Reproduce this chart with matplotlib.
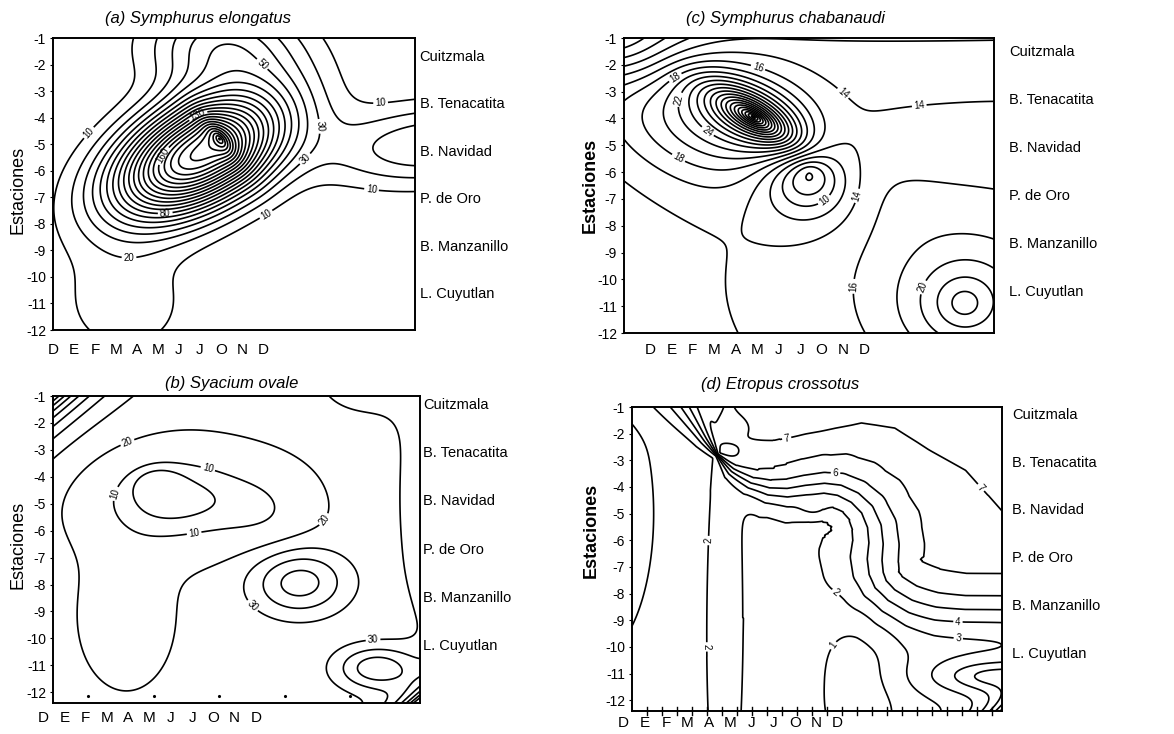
import numpy as np
import matplotlib
matplotlib.use("Agg")
import matplotlib.pyplot as plt

plt.rcParams['font.family'] = ['Liberation Sans', 'DejaVu Sans']

# ---------------- data ----------------
MONTHS = ['D', 'E', 'F', 'M', 'A', 'M', 'J', 'J', 'O', 'N', 'D']
STATIONS = ['Cuitzmala', 'B. Tenacatita', 'B. Navidad', 'P. de Oro', 'B. Manzanillo', 'L. Cuyutlan']
YTICKS = list(range(-1, -13, -1))

# Surfaces are estimated from the figure as a background level plus a few
# bumps (x = fraction of the sampled period, y = station axis value).

# (a) Symphurus elongatus
A_BASE = 0.0
A_X   = [0.40, 0.46, 1.05, 0.20, 0.47]
A_Y   = [-5.4, -4.8, -5.0, -11.0, -1.3]
A_AMP = [200., 60., 40., 16., 45.]
A_RX  = [92., 20., 110., 70., 75.]
A_RY  = [50., 9., 40., 60., 45.]
A_ANG = [28., -51., 5., 0., 0.]
A_POW = [2.0, 1.0, 2.0, 2.0, 2.0]
A_LEVELS = list(range(10, 280, 10))

# (b) Syacium ovale
B_BASE = 23.0
B_X   = [0.33, 0.285, 0.20, 0.60, 0.00, 0.85, 1.08, 0.67, 0.88, 1.00]
B_Y   = [-4.8, -4.3, -9.2, -5.5, -1.0, -0.3, -4.8, -7.9, -11.1, -12.4]
B_AMP = [-20., -8., -8., -8., 80., 12., 24., 33., 33., 90.]
B_RX  = [90., 22., 50., 50., 200., 60., 45., 48., 40., 200.]
B_RY  = [52., 16., 75., 50., 22., 45., 140., 33., 22., 12.]
B_ANG = [0., 0., 0., 0., 40., 0., 0., 0., 0., 38.]
B_POW = [2.0, 2.0, 2.0, 2.0, 1.0, 2.0, 2.0, 2.0, 2.0, 1.0]
B_LEVELS = [5, 10, 20, 30, 40, 50, 60, 70, 80, 90]

# (c) Symphurus chabanaudi
C_BASE = 12.5
C_X   = [0.35, 0.20, -0.05, 0.50, 1.05, 0.92, 0.80]
C_Y   = [-3.95, -4.3, -0.8, -6.0, -10.0, -10.9, -0.6]
C_AMP = [36., 6., -11., -16., 4., 9., -3.]
C_RX  = [52., 110., 110., 45., 290., 50., 260.]
C_RY  = [20., 60., 45., 40., 180., 45., 14.]
C_ANG = [-30., -20., -15., 0., 0., 0., 0.]
C_POW = [1.0, 2.0, 2.0, 1.5, 2.0, 1.3, 2.0]
C_LEVELS = list(range(2, 62, 2))

# (d) Etropus crossotus : S-shaped front between a low and a high plateau
D_LOW, D_HIGH = 1.5, 7.6
D_FRONT_X = [0.12, 0.20, 0.23, 0.27, 0.32, 0.37, 0.42, 0.47, 0.52, 0.56, 0.60,
             0.63, 0.645, 0.645, 0.635, 0.635, 0.65, 0.69, 0.75, 0.82, 0.90, 1.05]
D_FRONT_Y = [-0.5, -2.2, -2.8, -3.4, -3.9, -4.15, -4.2, -4.1, -4.05, -4.15, -4.45,
             -4.9, -5.5, -6.1, -6.7, -7.3, -7.85, -8.3, -8.6, -8.75, -8.8, -8.8]
D_FRONT_W = [28., 10., 2., 10., 16., 22., 26., 28., 30., 33., 36.,
             40., 44., 46., 48., 48., 46., 44., 42., 40., 38., 38.]
D_ARCH_DROP = 1.0
D_ARCH_X = [0.19, 0.235, 0.38, 0.47, 0.62, 0.71, 0.80, 0.90, 1.00, 1.10]
D_ARCH_Y = [-0.3, -2.3, -2.3, -2.0, -1.6, -1.8, -2.6, -3.4, -4.95, -6.0]
D_ARCH_W = [4., 3., 6., 6., 6., 6., 6., 6., 6., 6.]
D_X   = [0.25, 0.49, 0.27, 0.62, -0.10, 0.97, 1.02]
D_Y   = [-9.0, -4.8, -1.8, -10.5, -5.0, -11.1, -12.55]
D_AMP = [1.0, 0.7, 0.8, -1.2, -1.3, 3.5, 10.]
D_RX  = [22., 14., 15., 45., 60., 60., 150.]
D_RY  = [260., 9., 10., 120., 150., 18., 14.]
D_ANG = [0., 0., 0., 0., 0., 0., 40.]
D_POW = [2.0, 2.0, 2.0, 2.0, 2.0, 1.5, 1.0]
D_LEVELS = list(range(1, 15))

W_PX, U_PX = 370.0, 27.0


def bumps(X, Y, base, xs, ys, amps, rxs, rys, angs, pows):
    Z = np.full(X.shape, base, dtype=float)
    for x0, y0, a, rx, ry, ang, p in zip(xs, ys, amps, rxs, rys, angs, pows):
        dx = (X - x0) * W_PX
        dy = (Y - y0) * U_PX
        t = np.radians(ang)
        u = dx * np.cos(t) + dy * np.sin(t)
        v = -dx * np.sin(t) + dy * np.cos(t)
        r = np.sqrt((u / rx) ** 2 + (v / ry) ** 2)
        Z += a * np.exp(-r ** p)
    return Z


def front(X, Y, xs, ys, ws):
    """0..1 step across a polyline (1 on the left of its direction)."""
    gx, gy = X * W_PX, Y * U_PX
    best = np.full(X.shape, np.inf)
    sval = np.zeros(X.shape)
    for i in range(len(xs) - 1):
        ax, ay = xs[i] * W_PX, ys[i] * U_PX
        bx, by = xs[i + 1] * W_PX, ys[i + 1] * U_PX
        dx, dy = bx - ax, by - ay
        L2 = dx * dx + dy * dy
        t = np.clip(((gx - ax) * dx + (gy - ay) * dy) / L2, 0, 1)
        cx, cy = ax + t * dx, ay + t * dy
        dist = np.hypot(gx - cx, gy - cy)
        cross = dx * (gy - ay) - dy * (gx - ax)
        w = ws[i] + t * (ws[i + 1] - ws[i])
        s = np.sign(cross) * dist / w
        m = dist < best - 1e-9
        best = np.where(m, dist, best)
        sval = np.where(m, s, sval)
    return 0.5 * (1 + np.tanh(sval))


def field_a(X, Y):
    return bumps(X, Y, A_BASE, A_X, A_Y, A_AMP, A_RX, A_RY, A_ANG, A_POW)


def field_b(X, Y):
    return bumps(X, Y, B_BASE, B_X, B_Y, B_AMP, B_RX, B_RY, B_ANG, B_POW)


def field_c(X, Y):
    return bumps(X, Y, C_BASE, C_X, C_Y, C_AMP, C_RX, C_RY, C_ANG, C_POW)


def field_d(X, Y):
    Z = D_LOW + (D_HIGH - D_LOW) * front(X, Y, D_FRONT_X, D_FRONT_Y, D_FRONT_W)
    Z -= D_ARCH_DROP * front(X, Y, D_ARCH_X, D_ARCH_Y, D_ARCH_W)
    Z += bumps(X, Y, 0.0, D_X, D_Y, D_AMP, D_RX, D_RY, D_ANG, D_POW)
    return Z


FIG_W, FIG_H = 1174, 734
fig = plt.figure(figsize=(FIG_W / 100, FIG_H / 100), dpi=100)


def px_rect(l, t, r, b):
    return [l / FIG_W, 1 - b / FIG_H, (r - l) / FIG_W, (b - t) / FIG_H]


def panel(box, ylim, fieldfn, levels, title, title_xy, ylab_xy, ylab_bold,
          st_y0, st_dy, st_x, xl_start, xl_y, label_pts):
    ax = fig.add_axes(px_rect(*box))
    x = np.linspace(0, 1, 520)
    y = np.linspace(ylim[0], ylim[1], 440)
    X, Y = np.meshgrid(x, y)
    Z = fieldfn(X, Y)
    cs = ax.contour(X, Y, Z, levels=levels, colors='black', linewidths=1.2)
    if label_pts:
        ax.clabel(cs, manual=label_pts, inline=True, fontsize=7, fmt='%d',
                  inline_spacing=2)
    ax.set_xlim(0, 1)
    ax.set_ylim(*ylim)
    ax.set_xticks([])
    ax.set_yticks(YTICKS)
    ax.set_yticklabels([str(v) for v in YTICKS], fontsize=10)
    ax.tick_params(axis='y', length=2, pad=3)
    for s in ax.spines.values():
        s.set_linewidth(1.4)
    for i, m in enumerate(MONTHS):
        ax.text(xl_start + i * 0.058, xl_y, m, transform=ax.transAxes,
                ha='center', va='center', fontsize=11)
    for i, s in enumerate(STATIONS):
        ax.text(st_x, st_y0 - i * st_dy, s, transform=ax.get_yaxis_transform(),
                ha='left', va='center', fontsize=10.5)
    fig.text(title_xy[0] / FIG_W, 1 - title_xy[1] / FIG_H, title,
             ha='center', va='center', fontsize=12, style='italic')
    fig.text(ylab_xy[0] / FIG_W, 1 - ylab_xy[1] / FIG_H, 'Estaciones',
             ha='center', va='center', rotation=90, fontsize=13,
             fontweight='bold' if ylab_bold else 'normal')
    return ax


axa = panel((53, 38, 415, 330), (-12, -1), field_a, A_LEVELS,
            '(a) Symphurus elongatus', (198, 19), (18, 190), False,
            -1.7, 1.79, 1.013, 0.0, -0.068,
            [(0.11, -4.7), (0.57, -2.1), (0.76, -4.3), (0.70, -5.6), (0.88, -6.7),
             (0.31, -7.6), (0.60, -7.9), (0.21, -9.5), (0.9, -2.3), (0.30, -5.4),
             (0.40, -3.9)])

axc = panel((624, 38, 994, 333), (-12, -1), field_c, C_LEVELS,
            '(c) Symphurus chabanaudi', (785, 19), (590, 185), True,
            -1.52, 1.79, 1.04, 0.07, -0.058,
            [(0.14, -2.5), (0.15, -3.3), (0.15, -5.4), (0.36, -2.2), (0.57, -3.4),
             (0.80, -3.8), (0.55, -7.2), (0.66, -7.0), (0.55, -10.2), (0.79, -10.2),
             (0.22, -4.6)])

axb = panel((53, 396, 420, 703), (-12.4, -1), field_b, B_LEVELS,
            '(b) Syacium ovale', (232, 384), (18, 545), False,
            -1.33, 1.79, 1.008, -0.027, -0.049,
            [(0.19, -2.3), (0.14, -4.5), (0.42, -3.8), (0.39, -6.6), (0.74, -5.6),
             (0.55, -8.7), (0.87, -9.7)])

axd = panel((632, 407, 1002, 711), (-12.4, -1), field_d, D_LEVELS,
            '(d) Etropus crossotus', (780, 385), (591, 530), True,
            -1.3, 1.79, 1.027, -0.024, -0.039,
            [(0.42, -2.3), (0.88, -4.8), (0.19, -6.0), (0.15, -10.0), (0.55, -10.0),
             (0.55, -3.5), (0.53, -8.3), (0.88, -9.3), (0.88, -10.0)])

# tick marks along bottom of (d), dots along bottom of (b)
for k in range(1, 25):
    axd.plot([k * 0.0405, k * 0.0405], [-12.55, -12.25], color='black', lw=1.0,
             clip_on=False)
for xd in [0.095, 0.275, 0.453, 0.632, 0.81]:
    axb.plot([xd], [-12.15], marker='.', color='black', ms=2.5)

fig.savefig('out.png', dpi=100)
